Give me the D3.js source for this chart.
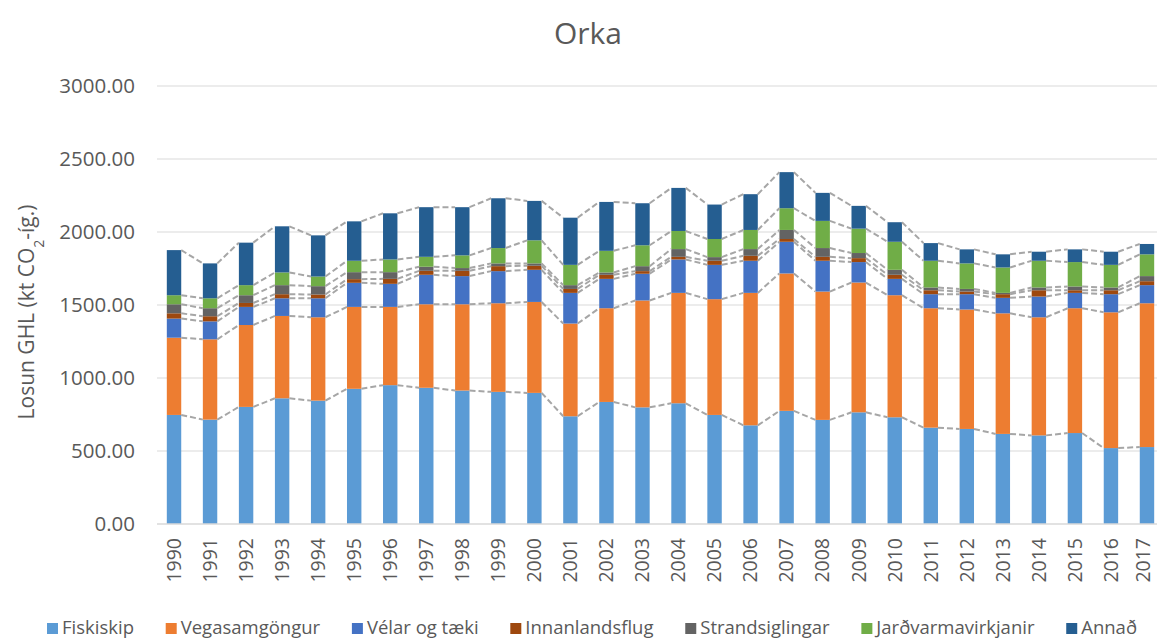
<!DOCTYPE html>
<html>
<head>
<meta charset="utf-8">
<script src="https://cdn.jsdelivr.net/npm/d3@7"></script>
<style>
body{margin:0;background:#fff;}
svg{display:block;font-family:"Open Sans","Liberation Sans",sans-serif;}
</style>
</head>
<body>
<div id="chart"></div>
<script>
var W = 1157, H = 639;
// data (kt CO2-íg.)
var years = ["1990","1991","1992","1993","1994","1995","1996","1997","1998","1999","2000","2001","2002","2003","2004","2005","2006","2007","2008","2009","2010","2011","2012","2013","2014","2015","2016","2017"];
var seriesNames = ["Fiskiskip","Vegasamgöngur","Vélar og tæki","Innanlandsflug","Strandsiglingar","Jarðvarmavirkjanir","Annað"];
var fiskiskip = [747,715,802,861,845,926,951,933,914,905,898,738,836,799,827,747,676,775,713,765,731,660,651,617,607,623,520,527];
var vegasamgongur = [529,550,561,564,571,561,536,572,591,607,623,635,642,732,756,793,907,941,879,889,836,818,818,826,809,855,930,985];
var velar = [131,123,124,121,130,165,158,202,193,220,220,210,201,183,229,235,220,217,211,140,112,96,105,106,142,105,124,124];
var innanlandsflug = [36,35,27,28,26,25,34,27,36,34,28,27,28,18,18,28,34,19,27,27,28,27,18,25,43,18,27,27];
var strandsiglingar = [62,55,53,62,57,48,46,28,19,19,16,26,16,34,53,25,46,62,60,35,34,19,18,9,19,26,19,35];
var jardvarma = [62,68,69,87,66,78,87,68,87,105,158,139,148,143,124,124,131,149,186,167,192,183,175,174,183,167,155,149];
var annad = [309,239,291,316,282,270,316,340,330,341,270,323,335,288,295,236,245,247,192,156,134,121,96,90,62,87,90,71];
var yTicks = [0,500,1000,1500,2000,2500,3000];
var colors = ["#5B9BD5","#ED7D31","#4472C4","#9E480E","#636363","#70AD47","#255E91"];

var values = [fiskiskip, vegasamgongur, velar, innanlandsflug, strandsiglingar, jardvarma, annad];
var table = years.map(function(y, i){
	var row = {year: y};
	seriesNames.forEach(function(n, k){ row[n] = values[k][i]; });
	return row;
});
var stack = d3.stack().keys(seriesNames)(table);

var svg = d3.select("#chart").append("svg").attr("width", W).attr("height", H);

var x = d3.scaleBand().domain(years).range([156, 1165]).paddingInner(0.6).paddingOuter(0.3);
var y = d3.scaleLinear().domain([0, 3000]).range([524, 86]);

// gridlines
svg.append("g").selectAll("line").data(yTicks.slice(1)).enter().append("line")
	.attr("x1", 157).attr("x2", W)
	.attr("y1", function(d){ return y(d); }).attr("y2", function(d){ return y(d); })
	.attr("stroke", "#d9d9d9").attr("stroke-width", 1);

// y axis labels
var yAxis = d3.axisLeft(y).tickValues(yTicks).tickSize(0).tickPadding(0)
	.tickFormat(function(d){ return d3.format(".2f")(d); });
var gy = svg.append("g").attr("transform", "translate(135,0)").call(yAxis);
gy.select(".domain").remove();
gy.selectAll("text").attr("fill", "#595959").style("font-size", "20.5px")
	.style("font-family", "'Open Sans',sans-serif");

// bars
svg.append("g").selectAll("g").data(stack).enter().append("g")
	.attr("fill", function(d, i){ return colors[i]; })
	.selectAll("rect").data(function(d){ return d; }).enter().append("rect")
	.attr("x", function(d){ return x(d.data.year); })
	.attr("width", x.bandwidth())
	.attr("y", function(d){ return y(d[1]); })
	.attr("height", function(d){ return y(d[0]) - y(d[1]); });

// series lines (dashed connectors between tops)
var lines = [];
stack.forEach(function(s){
	for (var i = 0; i < s.length - 1; i++) {
		lines.push({x1: x(years[i]) + x.bandwidth(), y1: y(s[i][1]), x2: x(years[i+1]), y2: y(s[i+1][1])});
	}
});
svg.append("g").selectAll("line").data(lines).enter().append("line")
	.attr("x1", function(d){ return d.x1; }).attr("y1", function(d){ return d.y1; })
	.attr("x2", function(d){ return d.x2; }).attr("y2", function(d){ return d.y2; })
	.attr("stroke", "#a6a6a6").attr("stroke-width", 2).attr("stroke-dasharray", "6,3");

// x axis
svg.append("line").attr("x1", 157).attr("x2", W).attr("y1", y(0)).attr("y2", y(0))
	.attr("stroke", "#d9d9d9").attr("stroke-width", 1.5);
var xAxis = d3.axisBottom(x).tickSize(0).tickPadding(0);
var gx = svg.append("g").attr("transform", "translate(0," + y(0) + ")").call(xAxis);
gx.select(".domain").remove();
gx.selectAll("text")
	.attr("fill", "#595959").style("font-size", "19.5px")
	.style("font-family", "'Open Sans',sans-serif")
	.attr("text-anchor", "end").attr("dy", "0.35em")
	.attr("transform", "translate(0,14) rotate(-90)")
	.attr("x", 0).attr("y", 0);
// keep the last label inside the page
gx.selectAll(".tick").each(function(){
	var b = this.getBoundingClientRect();
	if (b.right > W - 1) {
		d3.select(this).select("text").attr("transform", "translate(" + (W - 1 - b.right) + ",14) rotate(-90)");
	}
});

// title
svg.append("text").attr("x", 588).attr("y", 44).attr("text-anchor", "middle")
	.attr("fill", "#595959").style("font-size", "30px").text("Orka");

// y title
var yt = svg.append("text").attr("transform", "translate(34,312) rotate(-90)")
	.attr("text-anchor", "middle").attr("fill", "#595959").style("font-size", "21px");
yt.append("tspan").text("Losun GHL (kt CO");
yt.append("tspan").attr("baseline-shift", "sub").style("font-size", "14px").text("2");
yt.append("tspan").text("-íg.)");

// legend
var leg = svg.append("g");
var items = leg.selectAll("g").data(seriesNames).enter().append("g");
items.append("rect").attr("width", 11).attr("height", 11).attr("y", -11)
	.attr("fill", function(d, i){ return colors[i]; });
items.append("text").attr("x", 15).attr("y", 0).attr("fill", "#595959")
	.style("font-size", "18.5px").text(function(d){ return d; });
var widths = [];
items.each(function(){ widths.push(d3.select(this).select("text").node().getComputedTextLength() + 15); });
var total = d3.sum(widths);
var gap = (1137 - 47 - total) / (widths.length - 1);
var cx = 47;
items.attr("transform", function(d, i){
	var t = "translate(" + cx + ",634)";
	cx += widths[i] + gap;
	return t;
});
</script>
</body>
</html>
